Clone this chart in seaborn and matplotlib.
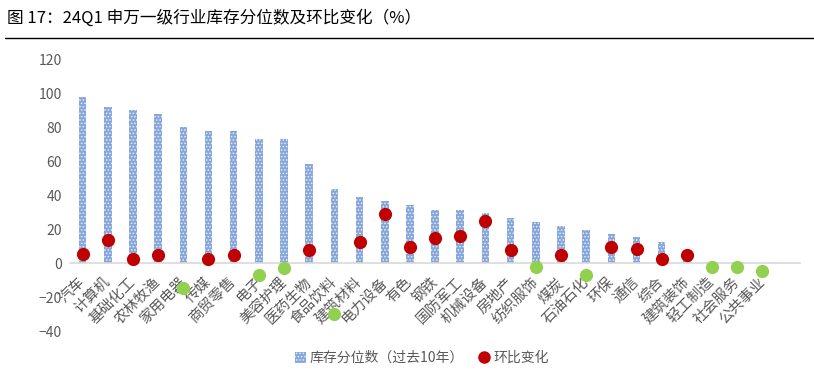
import numpy as np
import pandas as pd
import matplotlib
matplotlib.use("Agg")
import matplotlib.pyplot as plt
import seaborn as sns
from matplotlib.patches import Patch
from matplotlib.lines import Line2D

categories = ['汽车', '计算机', '基础化工', '农林牧渔', '家用电器', '传媒', '商贸零售', '电子',
              '美容护理', '医药生物', '食品饮料', '建筑材料', '电力设备', '有色', '钢铁', '国防军工',
              '机械设备', '房地产', '纺织服饰', '煤炭', '石油石化', '环保', '通信', '综合',
              '建筑装饰', '轻工制造', '社会服务', '公共事业']
inventory_pct = [97.7, 92.2, 90.2, 87.8, 80.4, 78.0, 78.0, 73.1, 73.0, 58.4, 43.8, 39.1, 36.7, 34.4,
                 31.6, 31.4, 29.3, 26.9, 24.4, 22.0, 19.5, 17.1, 15.5, 12.2, 4.0, 0.0, 0.0, 0.0]
qoq_change = [5.3, 13.4, 2.4, 4.9, -14.9, 2.4, 5.1, -7.1, -2.6, 7.5, -29.7, 12.4, 29.1, 9.8,
              14.9, 15.9, 24.6, 7.5, -2.4, 5.1, -7.1, 9.8, 8.1, 2.6, 5.1, -2.4, -2.4, -4.7]
y_ticks = [-40, -20, 0, 20, 40, 60, 80, 100, 120]
title = '图 17：24Q1 申万一级行业库存分位数及环比变化（%）'
legend_labels = ['库存分位数（过去10年）', '环比变化']

BAR = '#86A6DA'
RED = '#C00000'
GREEN = '#92D050'
GREY = '#595959'

sns.set_theme(style='white')
plt.rcParams['font.family'] = ['Noto Sans CJK SC', 'DejaVu Sans']
plt.rcParams['hatch.linewidth'] = 0.7

df = pd.DataFrame({'行业': categories, '库存分位数': inventory_pct, '环比变化': qoq_change})
df['方向'] = np.where(df['环比变化'] >= 0, '上升', '下降')

fig = plt.figure(figsize=(8.14, 3.81), dpi=100)
ax = fig.add_axes([0.086, 0.131, 0.897, 0.713])

sns.barplot(data=df, x='行业', y='库存分位数', order=categories, width=0.3,
            color=BAR, saturation=1, ax=ax, errorbar=None)
for p in ax.patches:
    p.set_hatch('.....')
    p.set_edgecolor('#E6EEF9')
    p.set_linewidth(0)

sns.stripplot(data=df, x='行业', y='环比变化', order=categories, hue='方向',
              hue_order=['上升', '下降'], palette={'上升': RED, '下降': GREEN},
              jitter=False, size=9.5, linewidth=0, legend=False, ax=ax, zorder=3)

n = len(categories)
ax.set_xlim(-0.5, n + 0.5)
ax.set_ylim(-40, 120)
ax.set_yticks(y_ticks)
ax.set_xlabel('')
ax.set_ylabel('')
for s in ['top', 'right', 'left']:
    ax.spines[s].set_visible(False)
ax.spines['bottom'].set_position(('data', 0))
ax.spines['bottom'].set_color('#D9D9D9')
ax.spines['bottom'].set_linewidth(1.2)
ax.spines['bottom'].set_zorder(1)

ax.set_xticks(np.arange(n))
ax.set_xticklabels(categories)
ax.set_xticks(np.arange(-0.5, n + 1, 1), minor=True)
ax.tick_params(axis='x', which='major', length=0, pad=12, labelsize=10.5, labelcolor=GREY)
ax.tick_params(axis='x', which='minor', length=5, width=1, color='#D9D9D9', direction='out')
for lab in ax.get_xticklabels():
    lab.set_rotation(45)
    lab.set_ha('right')
    lab.set_va('center')
    lab.set_rotation_mode('anchor')
ax.tick_params(axis='y', length=0, labelsize=10, labelcolor=GREY, pad=6)

fig.text(0.008, 0.953, title, fontsize=12, ha='left', va='center', color='black')
fig.add_artist(Line2D([0.006, 1.0], [0.9, 0.9], transform=fig.transFigure, color='black', lw=1))

handles = [Patch(facecolor=BAR, edgecolor='#E6EEF9', hatch='.....', linewidth=0),
           Line2D([], [], marker='o', ls='', color=RED, markersize=8)]
fig.legend(handles, legend_labels, loc='center', bbox_to_anchor=(0.518, 0.06), ncol=2,
           frameon=False, fontsize=10, handlelength=0.8, handleheight=0.8, handletextpad=0.3,
           columnspacing=1.0, labelcolor=GREY)

fig.savefig('out.png', dpi=100)
